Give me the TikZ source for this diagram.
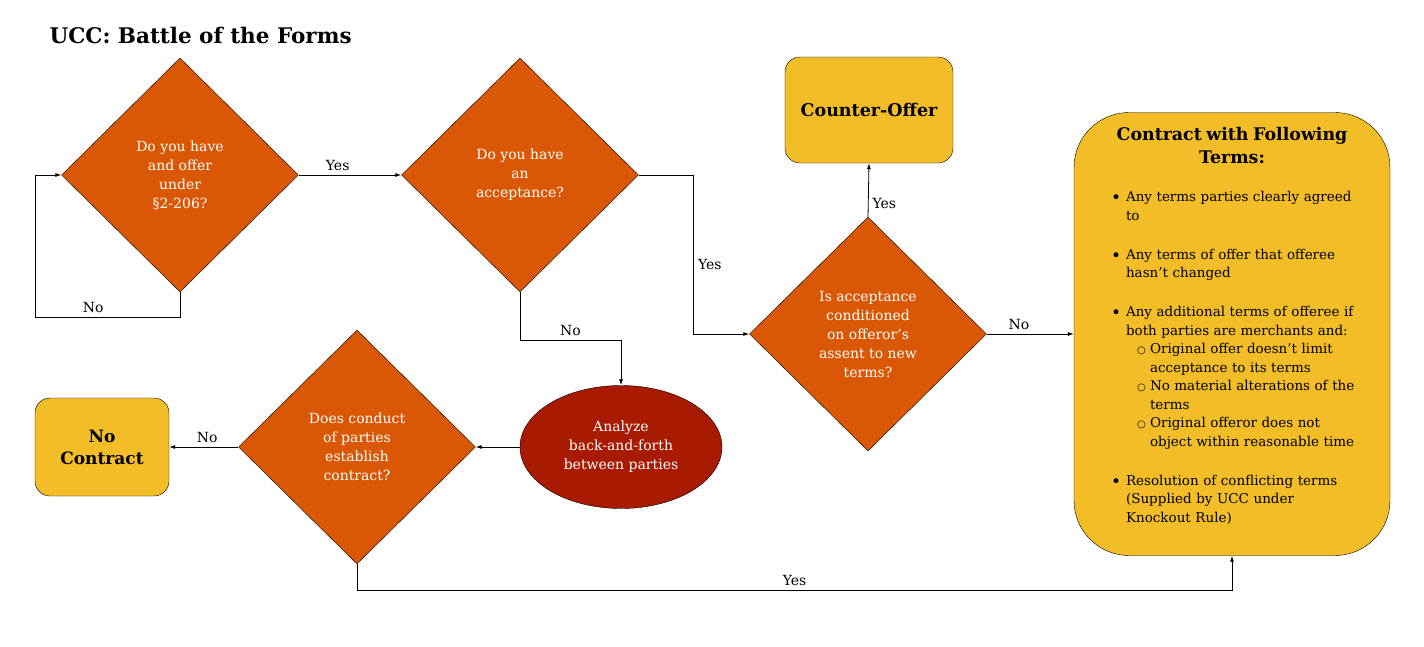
\documentclass[tikz,border=0pt]{standalone}
\usepackage{fontspec}
\setmainfont{DejaVu Serif}
\usetikzlibrary{shapes.geometric,arrows.meta}
\definecolor{qorange}{HTML}{D95705}
\definecolor{qred}{HTML}{A91A02}
\definecolor{qgold}{HTML}{F2BD27}
\newcommand{\itm}[1]{\par\noindent\hangindent=25pt\hangafter=1\hspace*{10pt}\makebox[15pt][l]{\raisebox{-2pt}{\fontsize{17}{17}\selectfont\textbullet}}#1\par}
\newcommand{\subitm}[1]{\par\noindent\hangindent=49pt\hangafter=1\hspace*{36pt}\makebox[13pt][l]{\fontsize{10}{10}\selectfont○}#1\par}
\begin{document}
\begin{tikzpicture}[x=1pt,y=-1pt,
  question/.style={diamond, draw, fill=qorange, text=white, align=center, inner sep=0pt, minimum width=237pt, minimum height=234pt, font=\fontsize{14}{19}\selectfont},
  endbox/.style={draw, fill=qgold, rounded corners=15pt, align=center, font=\bfseries\fontsize{17.5}{22}\selectfont},
  arr/.style={-{Latex[length=6pt,width=4pt]}, line width=0.8pt},
  lbl/.style={font=\fontsize{14}{14}\selectfont, inner sep=4pt}]
\useasboundingbox (0,0) rectangle (1424,646);
\node[anchor=base west, font=\bfseries\fontsize{21.5}{24}\selectfont] (title) at (46,43) {UCC: Battle of the Forms};
\node[question] (offer) at (180,175) {Do you have\\and offer\\under\\§2-206?};
\node[question] (accept) at (520,175) {Do you have\\an\\acceptance?};
\node[question] (cond) at (868,334) {Is acceptance\\conditioned\\on offeror’s\\assent to new\\terms?};
\node[question] (conduct) at (357,447) {Does conduct\\of parties\\establish\\contract?};
\node[ellipse, draw, fill=qred, text=white, align=center, minimum width=202pt, minimum height=123pt, font=\fontsize{14}{19}\selectfont] (analyze) at (621,447) {Analyze\\back-and-forth\\between parties};
\node[endbox, minimum width=168pt, minimum height=106pt] (counter) at (869,110) {Counter-Offer};
\node[endbox, minimum width=134pt, minimum height=98pt, font=\bfseries\fontsize{17}{22}\selectfont] (nocontract) at (102,447) {No\\Contract};
\node[draw, fill=qgold, rounded corners=55pt, minimum width=316pt, minimum height=443pt, text width=262pt, inner xsep=27pt, align=left, font=\fontsize{13.5}{18.5}\selectfont] (contract) at (1232,334) {%
{\centering\bfseries\fontsize{17.4}{23}\selectfont Contract with Following\\Terms:\par}
\vspace{20pt}
\itm{Any terms parties clearly agreed\newline to}
\vspace{20.5pt}
\itm{Any terms of offer that offeree\newline hasn’t changed}
\vspace{20.5pt}
\itm{Any additional terms of offeree if\newline both parties are merchants and:}
\subitm{Original offer doesn’t limit\newline acceptance to its terms}
\subitm{No material alterations of the\newline terms}
\subitm{Original offeror does not\newline object within reasonable time}
\vspace{20.5pt}
\itm{Resolution of conflicting terms\newline (Supplied by UCC under\newline Knockout Rule)}
\noindent\rule{0pt}{2pt}};
% connectors
\draw[arr] (offer.east) -- node[lbl, above, pos=0.38] {Yes} (accept.west);
\draw[arr] (offer.south) -- ++(0,25) -| node[lbl, above, pos=0.3] {No} ([xshift=-26pt]offer.west) -- (offer.west);
\draw[arr] (accept.south) -- ++(0,48) -| node[lbl, above, pos=0.25] {No} (analyze.north);
\draw[arr] (accept.east) -- ++(55,0) |- node[lbl, right, pos=0.28] {Yes} (cond.west);
\draw[arr] (cond.north) -- node[lbl, right, pos=0.25] {Yes} (counter.south);
\draw[arr] (cond.east) -- node[lbl, above, pos=0.37] {No} (contract.west);
\draw[arr] (analyze.west) -- (conduct.east);
\draw[arr] (conduct.west) -- node[lbl, above, pos=0.45] {No} (nocontract.east);
\draw[arr] (conduct.south) -- ++(0,26) -| node[lbl, above, pos=0.25] {Yes} (contract.south);
\end{tikzpicture}
\end{document}
